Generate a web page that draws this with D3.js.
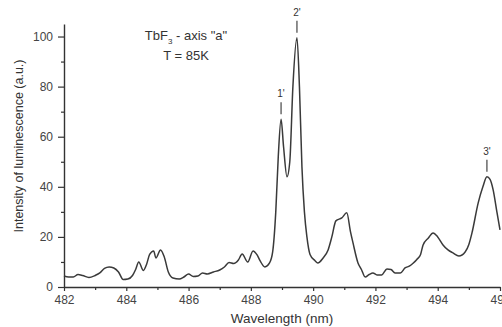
<!DOCTYPE html>
<html>
<head>
<meta charset="utf-8">
<script src="https://cdn.jsdelivr.net/npm/d3@7"></script>
<style>
  body { margin: 0; background: #fff; }
  svg { display: block; font-family: "Liberation Sans", Arial, sans-serif; }
</style>
</head>
<body>
<div id="chart"></div>
<script>
// wavelength (nm) and luminescence intensity (a.u.)
const wavelength = [
  482.0, 482.15, 482.3, 482.45, 482.6, 482.8, 483.0, 483.15, 483.3, 483.45,
  483.6, 483.75, 483.9, 484.05, 484.2, 484.3, 484.4, 484.55, 484.65, 484.75,
  484.88, 484.95, 485.1, 485.22, 485.35, 485.5, 485.7, 485.85, 486.0, 486.15,
  486.3, 486.45, 486.6, 486.8, 487.0, 487.15, 487.3, 487.45, 487.6, 487.72,
  487.9, 488.07, 488.2, 488.3, 488.45, 488.6, 488.7, 488.8, 488.88, 488.97,
  489.05, 489.16, 489.25, 489.35, 489.48, 489.56, 489.64, 489.72, 489.8, 489.9,
  490.06, 490.15, 490.32, 490.48, 490.6, 490.73, 490.92, 491.08, 491.2, 491.28,
  491.44, 491.55, 491.67, 491.8, 491.92, 492.05, 492.2, 492.37, 492.5, 492.63,
  492.8, 492.95, 493.1, 493.2, 493.33, 493.45, 493.53, 493.7, 493.85, 494.0,
  494.17, 494.33, 494.49, 494.68, 494.88, 495.0, 495.1, 495.3, 495.45, 495.58,
  495.68, 495.78, 495.9, 496.0
];
const intensity = [
  4.4, 4.0, 4.0, 5.0, 4.6, 3.8, 4.6, 5.6, 7.4, 8.0,
  7.6, 6.0, 3.0, 3.2, 4.6, 7.0, 10.0, 6.6, 9.0, 13.0,
  14.4, 11.6, 14.8, 12.0, 6.0, 3.6, 3.2, 4.0, 5.2, 4.2,
  4.4, 5.6, 5.2, 6.0, 6.8, 8.0, 9.8, 9.4, 10.8, 13.2,
  10.0, 14.4, 12.8, 10.4, 8.0, 9.6, 14.0, 30.0, 52.0, 67.0,
  56.0, 44.0, 50.0, 80.0, 99.5, 80.0, 48.0, 30.0, 20.0, 13.0,
  10.5, 9.6, 11.6, 14.8, 20.0, 26.4, 27.6, 29.6, 22.0, 17.6,
  9.6, 7.0, 4.0, 5.0, 5.6, 4.8, 4.8, 7.2, 7.0, 5.6,
  5.6, 7.6, 8.4, 9.4, 11.0, 13.0, 16.8, 19.6, 21.6, 20.0,
  16.8, 14.8, 13.6, 12.4, 14.0, 17.0, 21.6, 33.6, 40.0, 44.0,
  43.0, 38.8, 30.0, 22.8
];

// peak markers
const peakNames = ["1'", "2'", "3'"];
const peakWavelength = [488.97, 489.48, 495.58];
const peakIntensity = [67.0, 99.5, 44.0];

const xTicks = [482, 484, 486, 488, 490, 492, 494, 496];
const yTicks = [0, 20, 40, 60, 80, 100];

const width = 502;
const height = 327;
const margin = {top: 24, right: 2, bottom: 40, left: 64};

const svg = d3.select('#chart').append('svg')
  .attr('width', width)
  .attr('height', height)
  .style('overflow', 'visible');

const x = d3.scaleLinear()
  .domain([482, 496])
  .range([margin.left, width - margin.right]);

const y = d3.scaleLinear()
  .domain([0, 105])
  .range([height - margin.bottom, margin.top]);

const axisColor = '#333';
const labelColor = '#444';

// X axis: minor ticks then major ticks with labels
svg.append('g')
  .attr('transform', `translate(0,${y(0)})`)
  .call(d3.axisBottom(x).tickValues(d3.range(483, 496, 2)).tickSize(3).tickFormat(''))
  .call(g => g.select('.domain').remove())
  .call(g => g.selectAll('line').attr('stroke', axisColor).attr('stroke-width', 1.2));

svg.append('g')
  .attr('transform', `translate(0,${y(0)})`)
  .call(d3.axisBottom(x).tickValues(xTicks).tickSize(4).tickSizeOuter(0).tickPadding(4).tickFormat(d3.format('d')))
  .call(g => g.select('.domain').attr('stroke', axisColor).attr('stroke-width', 1.4))
  .call(g => g.selectAll('line').attr('stroke', axisColor).attr('stroke-width', 1.2))
  .call(g => g.selectAll('text').attr('fill', labelColor).attr('font-size', 12)
    .attr('font-family', '"Liberation Sans", Arial, sans-serif'));

// Y axis
svg.append('g')
  .attr('transform', `translate(${x(482)},0)`)
  .call(d3.axisLeft(y).tickValues(d3.range(10, 101, 20)).tickSize(3).tickFormat(''))
  .call(g => g.select('.domain').remove())
  .call(g => g.selectAll('line').attr('stroke', axisColor).attr('stroke-width', 1.2));

svg.append('g')
  .attr('transform', `translate(${x(482)},0)`)
  .call(d3.axisLeft(y).tickValues(yTicks).tickSize(6).tickSizeOuter(0).tickPadding(5))
  .call(g => g.select('.domain').attr('stroke', axisColor).attr('stroke-width', 1.4))
  .call(g => g.selectAll('line').attr('stroke', axisColor).attr('stroke-width', 1.2))
  .call(g => g.selectAll('text').attr('fill', labelColor).attr('font-size', 12)
    .attr('font-family', '"Liberation Sans", Arial, sans-serif'));

// Spectrum
const data = wavelength.map((w, i) => ({w, v: intensity[i]}));
svg.append('path')
  .datum(data)
  .attr('fill', 'none')
  .attr('stroke', '#3a3a3a')
  .attr('stroke-width', 1.5)
  .attr('stroke-linejoin', 'round')
  .attr('d', d3.line().x(d => x(d.w)).y(d => y(d.v)).curve(d3.curveMonotoneX));

// Peak labels
peakNames.forEach((name, i) => {
  const px = x(peakWavelength[i]);
  const py = y(peakIntensity[i]);
  svg.append('line')
    .attr('x1', px).attr('x2', px)
    .attr('y1', py - 5).attr('y2', py - 17)
    .attr('stroke', '#444').attr('stroke-width', 1.2);
  svg.append('text')
    .attr('x', px)
    .attr('y', py - 22)
    .attr('text-anchor', 'middle')
    .attr('font-size', 10)
    .attr('fill', '#333')
    .text(name);
});

// Title block
const title = svg.append('text')
  .attr('x', 186)
  .attr('y', 40)
  .attr('text-anchor', 'middle')
  .attr('font-size', 13)
  .attr('fill', '#333');
title.append('tspan').text('TbF');
title.append('tspan').attr('font-size', 8).attr('dy', 4).text('3');
title.append('tspan').attr('dy', -4).text(' - axis "a"');

svg.append('text')
  .attr('x', 186)
  .attr('y', 60)
  .attr('text-anchor', 'middle')
  .attr('font-size', 13)
  .attr('fill', '#333')
  .text('T = 85K');

// Axis labels
svg.append('text')
  .attr('x', (x(482) + x(496)) / 2)
  .attr('y', 323)
  .attr('text-anchor', 'middle')
  .attr('font-size', 13.5)
  .attr('fill', '#333')
  .text('Wavelength (nm)');

svg.append('text')
  .attr('transform', `translate(23,${146}) rotate(-90)`)
  .attr('text-anchor', 'middle')
  .attr('font-size', 12.5)
  .attr('fill', '#333')
  .text('Intensity of luminescence (a.u.)');
</script>
</body>
</html>
